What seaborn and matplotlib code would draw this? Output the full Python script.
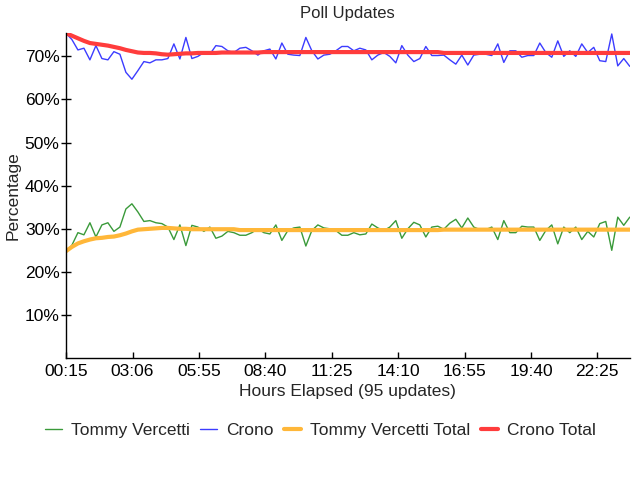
import numpy as np
import pandas as pd
import matplotlib
matplotlib.use('Agg')
import matplotlib.pyplot as plt
import seaborn as sns

# === data (percent per update) ===
tommy = [24.6, 26.2, 29.1, 28.6, 31.4, 28.1, 30.9, 31.4, 29.4, 30.4,
         34.6, 35.8, 33.9, 31.7, 31.9, 31.4, 31.2, 30.4, 27.5, 30.9,
         26.1, 30.8, 30.4, 29.4, 30.4, 27.8, 28.3, 29.4, 29.1, 28.5,
         28.5, 29.1, 30.0, 29.1, 28.8, 30.9, 27.3, 29.6, 30.2, 30.4,
         26.0, 29.6, 30.9, 30.2, 30.0, 29.6, 28.5, 28.5, 29.1, 28.6,
         28.8, 31.1, 30.2, 29.6, 30.4, 31.9, 27.8, 30.0, 31.5, 30.9,
         28.1, 30.4, 30.6, 29.9, 31.3, 32.2, 30.2, 32.5, 30.4, 29.8,
         29.8, 30.4, 27.5, 31.9, 29.1, 29.1, 30.6, 30.4, 30.4, 27.3,
         29.6, 30.9, 26.5, 30.4, 29.1, 30.4, 27.5, 29.4, 28.1, 31.2,
         31.7, 25.0, 32.7, 30.8, 32.7]
crono = [75.4, 73.9, 71.5, 71.9, 69.2, 72.5, 69.5, 69.2, 71.1, 70.5,
         66.3, 64.7, 66.7, 68.8, 68.5, 69.2, 69.2, 69.5, 72.9, 69.4,
         74.4, 69.5, 70.0, 70.9, 70.5, 72.5, 72.3, 71.3, 70.9, 71.9,
         72.1, 71.3, 70.3, 71.3, 71.7, 69.4, 73.1, 70.5, 70.3, 70.2,
         74.4, 71.3, 69.4, 70.3, 70.5, 71.3, 72.3, 72.3, 71.3, 71.9,
         71.5, 69.2, 70.3, 70.9, 70.0, 68.5, 72.5, 70.3, 68.8, 69.5,
         72.3, 70.2, 70.2, 70.3, 69.2, 68.2, 70.3, 68.0, 70.3, 70.5,
         70.5, 70.2, 72.9, 68.6, 71.3, 71.3, 69.8, 70.2, 70.2, 73.1,
         70.9, 69.8, 73.6, 70.0, 71.3, 70.0, 72.9, 70.9, 72.1, 69.0,
         68.8, 75.2, 67.8, 69.5, 67.7]
tommy_total = [24.8, 25.8, 26.6, 27.1, 27.5, 27.8, 27.9, 28.1, 28.2, 28.5,
               28.9, 29.4, 29.8, 29.9, 30.0, 30.1, 30.2, 30.2, 30.1, 30.0,
               30.0, 29.9, 29.9, 29.9, 29.9, 29.9, 29.9, 29.9, 29.9, 29.7,
               29.7, 29.7, 29.7, 29.7, 29.7, 29.7, 29.7, 29.7, 29.7, 29.7,
               29.7, 29.7, 29.7, 29.7, 29.7, 29.7, 29.7, 29.7, 29.7, 29.7,
               29.7, 29.7, 29.7, 29.7, 29.7, 29.7, 29.7, 29.7, 29.7, 29.7,
               29.7, 29.7, 29.7, 29.8, 29.8, 29.8, 29.8, 29.8, 29.8, 29.8,
               29.8, 29.8, 29.8, 29.8, 29.8, 29.8, 29.8, 29.8, 29.8, 29.8,
               29.8, 29.8, 29.8, 29.8, 29.8, 29.8, 29.8, 29.8, 29.8, 29.8,
               29.8, 29.8, 29.8, 29.8, 29.8]
crono_total = [75.4, 74.8, 74.2, 73.6, 73.1, 72.9, 72.7, 72.5, 72.2, 71.9,
               71.5, 71.2, 70.9, 70.8, 70.8, 70.7, 70.5, 70.4, 70.5, 70.6,
               70.7, 70.7, 70.8, 70.8, 70.8, 70.8, 70.9, 70.9, 70.9, 70.9,
               70.9, 70.9, 70.9, 71.0, 71.0, 71.0, 71.0, 71.0, 71.0, 71.0,
               71.0, 71.0, 71.0, 71.0, 71.0, 71.0, 71.0, 71.0, 71.0, 71.0,
               71.0, 71.0, 71.0, 71.0, 71.0, 71.0, 71.0, 71.0, 71.0, 71.0,
               71.0, 71.0, 71.0, 70.8, 70.8, 70.8, 70.8, 70.8, 70.8, 70.8,
               70.8, 70.8, 70.8, 70.8, 70.8, 70.8, 70.8, 70.8, 70.8, 70.8,
               70.8, 70.8, 70.8, 70.8, 70.8, 70.8, 70.8, 70.8, 70.8, 70.8,
               70.8, 70.8, 70.8, 70.8, 70.8]

tick_labels = ['00:15', '03:06', '05:55', '08:40', '11:25',
               '14:10', '16:55', '19:40', '22:25']
tick_pos = [0, 11.1, 22.2, 33.2, 44.3, 55.4, 66.5, 77.6, 88.6]
y_ticks = [10, 20, 30, 40, 50, 60, 70]

updates = np.arange(len(crono))
df = pd.DataFrame({'update': updates,
                   'Tommy Vercetti': tommy,
                   'Crono': crono,
                   'Tommy Vercetti Total': tommy_total,
                   'Crono Total': crono_total})

sns.set_theme(style='white')
plt.rcParams['font.family'] = ['Liberation Sans', 'DejaVu Sans']

fig = plt.figure(figsize=(6.4, 4.8), dpi=100)
ax = fig.add_axes([0.103, 0.254, 0.881, 0.677])

styles = [('Tommy Vercetti', '#3a9a3a', 1.0),
          ('Crono', '#3c3cff', 1.0),
          ('Tommy Vercetti Total', '#ffb739', 3.0),
          ('Crono Total', '#ff3c3c', 3.0)]
for name, color, lw in styles:
    sns.lineplot(data=df, x='update', y=name, ax=ax, color=color,
                 linewidth=lw, label=name, legend=False)

ax.set_xlim(0, len(crono) - 1)
ax.set_ylim(0, 75.4)
ax.set_xticks(tick_pos)
ax.set_xticklabels(tick_labels)
ax.set_yticks(y_ticks)
ax.set_yticklabels([f'{v}%' for v in y_ticks])
ax.tick_params(axis='x', labelsize=12.5, length=4, width=1,
               direction='in', colors='black', pad=4, bottom=True)
ax.tick_params(axis='y', labelsize=12.5, length=7, width=1,
               direction='inout', colors='black', pad=1, left=True)
for side in ['top', 'right']:
    ax.spines[side].set_visible(False)
for side in ['left', 'bottom']:
    ax.spines[side].set_color('black')
    ax.spines[side].set_linewidth(1)

ax.set_title('Poll Updates', fontsize=12, pad=11)
ax.set_xlabel('Hours Elapsed (95 updates)', fontsize=12.5, labelpad=4)
ax.set_ylabel('Percentage', fontsize=12.5, labelpad=3)

handles, labels = ax.get_legend_handles_labels()
fig.legend(handles, labels, loc='center', bbox_to_anchor=(0.5, 0.103),
           ncol=4, frameon=False, fontsize=12.5, handlelength=1.0,
           handletextpad=0.5, columnspacing=0.6)

fig.savefig('out.png', dpi=100, facecolor='white')
